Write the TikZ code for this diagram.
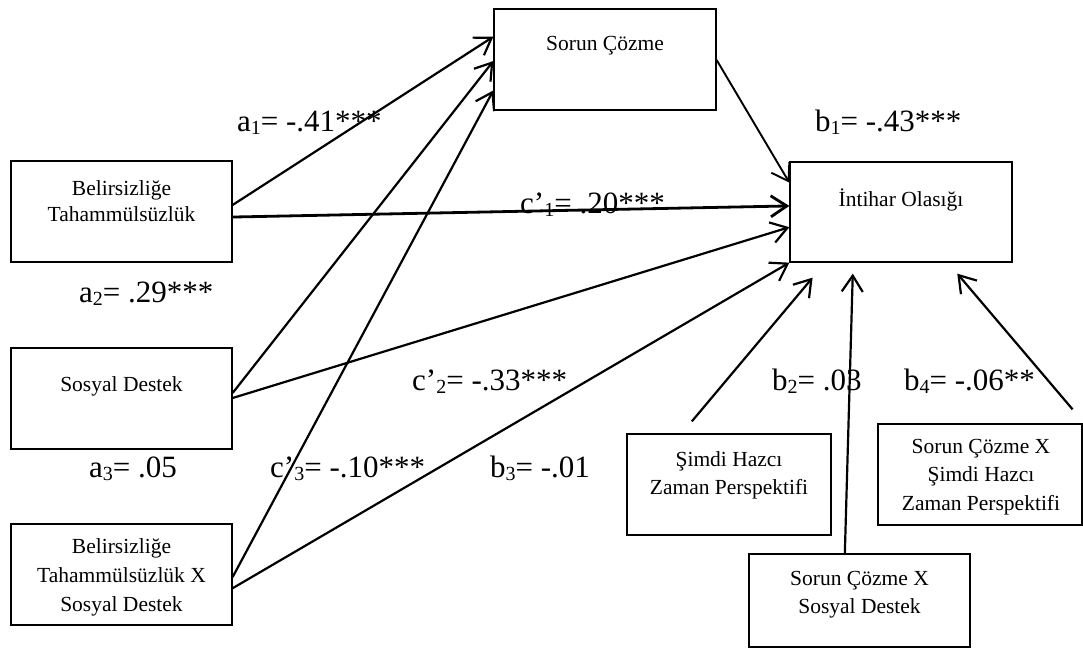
\documentclass[tikz,border=0pt]{standalone}
\usepackage{fontspec}
\setmainfont{Liberation Serif}
\usetikzlibrary{arrows.meta,calc}
% small lowered index used in the path coefficients
\newcommand\lsub[1]{\raisebox{-0.12em}{\fontsize{20}{20}\selectfont #1}}
\begin{document}
\begin{tikzpicture}[x=1pt,y=-1pt,
  box/.style={draw, line width=1.3pt, inner sep=0pt},
  boxtext/.style={align=center, inner sep=0pt},
  coef/.style={font=\fontsize{31}{34}\selectfont, inner sep=0pt, anchor=base west},
  arr/.style={line width=2.2pt, -{Straight Barb[length=16pt,width=21pt]}}]
\useasboundingbox (0,0) rectangle (1083,657);

% variable boxes
\node[box, minimum width=221pt, minimum height=101pt] (bt)   at (121.5,211.5) {};
\node[box, minimum width=221pt, minimum height=101pt] (sd)   at (121.5,398.5) {};
\node[box, minimum width=221pt, minimum height=101pt] (btsd) at (121.5,574.5) {};
\node[box, minimum width=222pt, minimum height=101pt] (sc)   at (605,59.5) {};
\node[box, minimum width=222pt, minimum height=100pt] (io)   at (901,212) {};
\node[box, minimum width=204pt, minimum height=101pt] (sh)   at (729,484.5) {};
\node[box, minimum width=221pt, minimum height=93pt]  (scsd) at (859.5,600.5) {};
\node[box, minimum width=204pt, minimum height=101pt] (scsh) at (980,474.5) {};

% box texts
\node[boxtext, font=\fontsize{21.5}{26}\selectfont] (btT) at (121.5,201) {Belirsizliğe\\Tahammülsüzlük};
\node[boxtext, font=\fontsize{21.5}{26}\selectfont] (sdT) at (121.5,386) {Sosyal Destek};
\node[boxtext, font=\fontsize{21.5}{29}\selectfont] (btsdT) at (121.5,577) {Belirsizliğe\\Tahammülsüzlük X\\Sosyal Destek};
\node[boxtext, font=\fontsize{21.5}{26}\selectfont] (scT) at (605,46) {Sorun Çözme};
\node[boxtext, font=\fontsize{21.5}{26}\selectfont] (ioT) at (901,200) {İntihar Olasığı};
\node[boxtext, font=\fontsize{21.5}{28}\selectfont] (shT) at (729,475) {Şimdi Hazcı\\Zaman Perspektifi};
\node[boxtext, font=\fontsize{21.5}{28}\selectfont] (scsdT) at (859.5,595) {Sorun Çözme X\\Sosyal Destek};
\node[boxtext, font=\fontsize{21.5}{28.5}\selectfont] (scshT) at (981,477) {Sorun Çözme X\\Şimdi Hazcı\\Zaman Perspektifi};

% paths to Sorun Çözme
\draw[arr] ($(bt.north east)!0.436!(bt.south east)$) -- ($(sc.north west)!0.277!(sc.south west)$);
\draw[arr] ($(sd.north east)!0.446!(sd.south east)$) -- ($(sc.north west)!0.515!(sc.south west)$);
\draw[arr] ($(btsd.north east)!0.525!(btsd.south east)$) -- ($(sc.north west)!0.802!(sc.south west)$);

% paths to İntihar Olasığı
\draw[arr, line width=2.8pt] ($(bt.north east)!0.554!(bt.south east)$) -- ($(io.north west)!0.44!(io.south west)$);
\draw[arr] ($(sd.north east)!0.495!(sd.south east)$) -- ($(io.north west)!0.65!(io.south west)$);
\draw[arr] ($(btsd.north east)!0.634!(btsd.south east)$) -- (io.south west);
\draw[arr, line width=1.9pt] ($(sc.north east)!0.505!(sc.south east)$) -- ($(io.north west)!0.21!(io.south west)$);
\draw[arr] ($(sh.north west)!0.319!(sh.north east)+(0,-12)$) -- ($(io.south west)!0.104!(io.south east)+(0,15)$);
\draw[arr] ($(scsd.north west)!0.434!(scsd.north east)$) -- ($(io.south west)!0.284!(io.south east)+(0,11)$);
\draw[arr] ($(scsh.north west)!0.951!(scsh.north east)+(0,-14)$) -- ($(io.south west)!0.752!(io.south east)+(0,11)$);

% coefficients
\node[coef] (la1) at (237,131) {a\lsub{1}= -.41***};
\node[coef] (lb1) at (815,131) {b\lsub{1}= -.43***};
\node[coef] (lc1) at (520,213) {c’\lsub{1}= .20***};
\node[coef] (la2) at (79,302) {a\lsub{2}= .29***};
\node[coef] (lc2) at (412,390) {c’\lsub{2}= -.33***};
\node[coef] (la3) at (89,477) {a\lsub{3}= .05};
\node[coef] (lc3) at (270,477) {c’\lsub{3}= -.10***};
\node[coef] (lb3) at (490,477) {b\lsub{3}= -.01};
\node[coef] (lb2) at (772,390) {b\lsub{2}= .03};
\node[coef] (lb4) at (904,390) {b\lsub{4}= -.06**};
\end{tikzpicture}
\end{document}
